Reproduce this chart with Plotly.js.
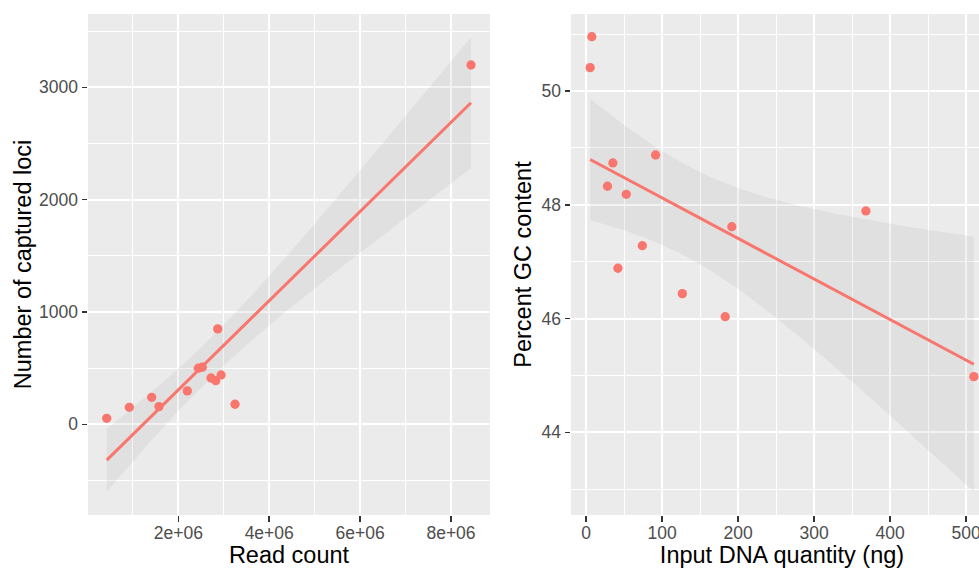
<!DOCTYPE html>
<html>
<head>
<meta charset="utf-8">
<script src="https://cdn.plot.ly/plotly-3.0.1.min.js"></script>
<style>html,body{margin:0;padding:0;background:#fff;overflow:hidden;}#wrap{width:979px;height:568px;overflow:hidden;}#chart{width:993px;height:568px;}</style>
</head>
<body>
<div id="wrap"><div id="chart"></div></div>
<script>
// ---- data ----
const readCount = [0.425e6, 0.922e6, 1.415e6, 1.575e6, 2.198e6, 2.44e6, 2.528e6, 2.72e6, 2.823e6, 2.94e6, 2.867e6, 3.248e6, 8.44e6];
const capturedLoci = [53, 151, 240, 157, 297, 499, 508, 412, 388, 439, 849, 178, 3199];
const inputDNA = [7.5, 5.3, 35.2, 28.1, 52.8, 91.4, 73.9, 41.8, 191.7, 368.1, 126.6, 183.0, 510.1];
const gcContent = [50.954, 50.41, 48.735, 48.325, 48.184, 48.875, 47.281, 46.884, 47.615, 47.891, 46.438, 46.033, 44.979];
const leftTickVals = [2e6, 4e6, 6e6, 8e6];
const leftTickText = ['2e+06', '4e+06', '6e+06', '8e+06'];
const leftYTicks = [0, 1000, 2000, 3000];
const rightXTicks = [0, 100, 200, 300, 400, 500];
const rightYTicks = [44, 46, 48, 50];

const RED = '#F8766D';
const FONT = 'Liberation Sans, Arial, sans-serif';
const W = 993; // full figure width; the page window crops it at 979 like the reference

// linear model fit with 95% confidence band (like geom_smooth(method = "lm"))
function lmFit(x, y, steps) {
  const n = x.length;
  const mx = x.reduce((a, b) => a + b, 0) / n;
  const my = y.reduce((a, b) => a + b, 0) / n;
  let sxx = 0, sxy = 0;
  for (let i = 0; i < n; i++) { sxx += (x[i] - mx) ** 2; sxy += (x[i] - mx) * (y[i] - my); }
  const b = sxy / sxx, a = my - b * mx;
  let sse = 0;
  for (let i = 0; i < n; i++) sse += (y[i] - a - b * x[i]) ** 2;
  const s = Math.sqrt(sse / (n - 2));
  const tq = 2.200985; // t(0.975, df = 11)
  const xmin = Math.min(...x), xmax = Math.max(...x);
  const xs = [], fit = [], lo = [], hi = [];
  for (let k = 0; k <= steps; k++) {
    const xv = xmin + (xmax - xmin) * k / steps;
    const f = a + b * xv;
    const se = s * Math.sqrt(1 / n + (xv - mx) ** 2 / sxx);
    xs.push(xv); fit.push(f); lo.push(f - tq * se); hi.push(f + tq * se);
  }
  return { xs, fit, lo, hi };
}

const fL = lmFit(readCount, capturedLoci, 80);
const fR = lmFit(inputDNA, gcContent, 80);

function band(f, xa, ya) {
  return {
    x: f.xs.concat(f.xs.slice().reverse()),
    y: f.hi.concat(f.lo.slice().reverse()),
    xaxis: xa, yaxis: ya, type: 'scatter', mode: 'lines',
    fill: 'toself', fillcolor: 'rgba(153,153,153,0.13)',
    line: { width: 0, color: 'rgba(0,0,0,0)' }, hoverinfo: 'skip', showlegend: false
  };
}
function line(f, xa, ya) {
  return { x: f.xs, y: f.fit, xaxis: xa, yaxis: ya, type: 'scatter', mode: 'lines',
    line: { color: RED, width: 3 }, showlegend: false };
}
function pts(x, y, xa, ya) {
  return { x: x, y: y, xaxis: xa, yaxis: ya, type: 'scatter', mode: 'markers',
    marker: { color: RED, size: 9.3, line: { width: 0 } }, showlegend: false };
}

const traces = [
  band(fL, 'x', 'y'), line(fL, 'x', 'y'), pts(readCount, capturedLoci, 'x', 'y'),
  band(fR, 'x2', 'y2'), line(fR, 'x2', 'y2'), pts(inputDNA, gcContent, 'x2', 'y2')
];

const TITLE_FONT = { family: FONT, size: 23.5, color: '#000000' };

function axisBase() {
  return {
    showgrid: true, gridcolor: '#FFFFFF', gridwidth: 2,
    zeroline: false, showline: false,
    ticks: 'outside', ticklen: 5.5, tickwidth: 1.5, tickcolor: '#333333',
    tickfont: { family: FONT, size: 17.5, color: '#4D4D4D' },
    fixedrange: true
  };
}
function minorGrid(vals) {
  return { tickmode: 'array', tickvals: vals, showgrid: true, gridcolor: '#FFFFFF', gridwidth: 1, ticks: '' };
}

const layout = {
  width: W, height: 568,
  margin: { l: 0, r: 0, t: 14, b: 53 },
  paper_bgcolor: '#FFFFFF', plot_bgcolor: '#EBEBEB',
  font: { family: FONT },
  showlegend: false,
  xaxis: Object.assign(axisBase(), {
    domain: [88 / W, 490 / W], range: [13000, 8.858e6],
    tickmode: 'array', tickvals: leftTickVals, ticktext: leftTickText,
    ticklabelstandoff: -4,
    minor: minorGrid([1e6, 3e6, 5e6, 7e6]),
    title: { text: 'Read count', font: TITLE_FONT, standoff: 4 },
    anchor: 'y'
  }),
  yaxis: Object.assign(axisBase(), {
    domain: [0, 1], range: [-808, 3653],
    tickmode: 'array', tickvals: leftYTicks, ticktext: leftYTicks.map(String),
    minor: minorGrid([-500, 500, 1500, 2500, 3500]),
    title: { text: 'Number of captured loci', font: TITLE_FONT, standoff: 0 },
    anchor: 'x'
  }),
  xaxis2: Object.assign(axisBase(), {
    domain: [571 / W, 1], range: [-19.9, 535.3],
    tickmode: 'array', tickvals: rightXTicks, ticktext: rightXTicks.map(String),
    ticklabelstandoff: -4,
    minor: minorGrid([50, 150, 250, 350, 450]),
    title: { text: 'Input DNA quantity (ng)', font: TITLE_FONT, standoff: 4 },
    anchor: 'y2'
  }),
  yaxis2: Object.assign(axisBase(), {
    domain: [0, 1], range: [42.547, 51.353],
    tickmode: 'array', tickvals: rightYTicks, ticktext: rightYTicks.map(String),
    minor: minorGrid([43, 45, 47, 49, 51]),
    title: { text: 'Percent GC content', font: TITLE_FONT, standoff: 3 },
    anchor: 'x2'
  })
};

Plotly.newPlot('chart', traces, layout, { displayModeBar: false, staticPlot: true });
</script>
</body>
</html>
